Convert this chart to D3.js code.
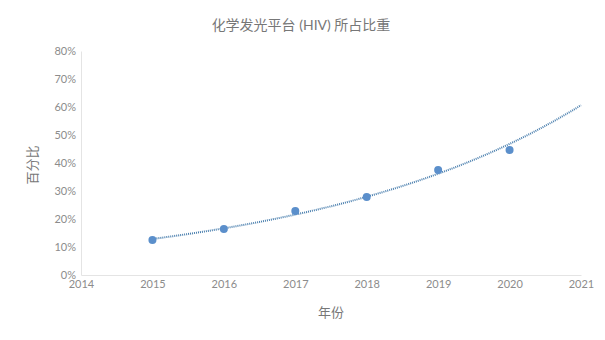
<!DOCTYPE html>
<html>
<head>
<meta charset="utf-8">
<script src="https://cdn.jsdelivr.net/npm/d3@7"></script>
<style>
  body { margin: 0; background: #fff; }
  svg text { font-family: Lato, "Noto Sans CJK SC", sans-serif; }
</style>
</head>
<body>
<svg id="chart" width="605" height="340"></svg>
<script>
// 数据
const years = [2015, 2016, 2017, 2018, 2019, 2020];
const shares = [0.125, 0.164, 0.229, 0.279, 0.375, 0.446];
const xTicks = [2014, 2015, 2016, 2017, 2018, 2019, 2020, 2021];
const yTicks = [0, 0.1, 0.2, 0.3, 0.4, 0.5, 0.6, 0.7, 0.8];

const svg = d3.select("#chart");
const margin = { left: 81, top: 51, right: 24, bottom: 65 };
const width = 605 - margin.left - margin.right;
const height = 340 - margin.top - margin.bottom;
const g = svg.append("g").attr("transform", `translate(${margin.left},${margin.top})`);

const x = d3.scaleLinear().domain([2014, 2021]).range([0, width]);
const y = d3.scaleLinear().domain([0, 0.8]).range([height, 0]);

// 坐标轴
const yAxis = g.append("g")
    .call(d3.axisLeft(y).tickValues(yTicks).tickFormat(d3.format(".0%")).tickSize(0).tickPadding(5));
yAxis.select(".domain").attr("stroke", "#e4e4e4");
yAxis.selectAll("text").attr("fill", "#8c8c8c").style("font-size", "11px");

const xAxis = g.append("g").attr("transform", `translate(0,${height})`)
    .call(d3.axisBottom(x).tickValues(xTicks).tickFormat(d3.format("d")).tickSize(0).tickPadding(5));
xAxis.select(".domain").attr("stroke", "#e4e4e4");
xAxis.selectAll("text").attr("fill", "#8c8c8c").style("font-size", "11px");

// 指数趋势线 (由数据回归得到)
const lx = years.map(d => d - 2015), ly = shares.map(Math.log);
const mx = d3.mean(lx), my = d3.mean(ly);
const b = d3.sum(lx, (d, i) => (d - mx) * (ly[i] - my)) / d3.sum(lx, d => (d - mx) * (d - mx));
const a = my - b * mx;
const trend = d3.range(2015, 2021.001, 0.1).map(t => ({ year: t, v: Math.exp(a + b * (t - 2015)) }));

g.append("path")
    .datum(trend)
    .attr("fill", "none")
    .attr("stroke", "#4a7fae")
    .attr("stroke-width", 2)
    .attr("stroke-dasharray", "1,1")
    .attr("d", d3.line().x(d => x(d.year)).y(d => y(d.v)).curve(d3.curveMonotoneX));

// 数据点
g.selectAll(".point")
    .data(years)
    .enter()
    .append("circle")
    .attr("class", "point")
    .attr("cx", d => x(d))
    .attr("cy", (d, i) => y(shares[i]))
    .attr("r", 4)
    .attr("fill", "#5b8fcb");

// 标题
svg.append("text")
    .attr("x", 301).attr("y", 30)
    .attr("text-anchor", "middle")
    .attr("fill", "#777")
    .style("font-size", "14px")
    .text("化学发光平台 (HIV) 所占比重");

svg.append("text")
    .attr("x", 331).attr("y", 317)
    .attr("text-anchor", "middle")
    .attr("fill", "#777")
    .style("font-size", "13px")
    .text("年份");

svg.append("text")
    .attr("transform", "translate(37,165) rotate(-90)")
    .attr("text-anchor", "middle")
    .attr("fill", "#777")
    .style("font-size", "13px")
    .text("百分比");
</script>
</body>
</html>
